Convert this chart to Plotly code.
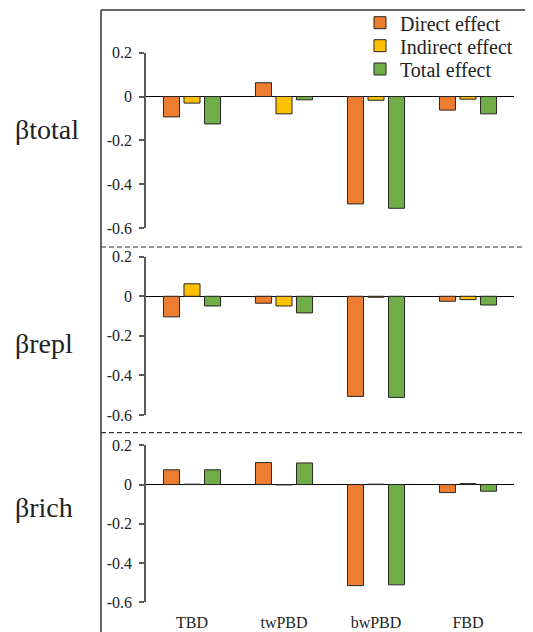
import plotly.graph_objects as go

categories = ["TBD", "twPBD", "bwPBD", "FBD"]
series_names = ["Direct effect", "Indirect effect", "Total effect"]
row_labels = ["βtotal", "βrepl", "βrich"]

total_direct = [-0.093, 0.063, -0.490, -0.062]
total_indirect = [-0.030, -0.079, -0.017, -0.012]
total_total = [-0.125, -0.015, -0.510, -0.079]

repl_direct = [-0.104, -0.035, -0.506, -0.025]
repl_indirect = [0.063, -0.049, -0.005, -0.017]
repl_total = [-0.049, -0.084, -0.511, -0.044]

rich_direct = [0.075, 0.112, -0.515, -0.041]
rich_indirect = [0.002, -0.002, 0.002, 0.005]
rich_total = [0.075, 0.110, -0.511, -0.034]

y_ticks = [0.2, 0, -0.2, -0.4, -0.6]
y_tick_text = ["0.2", "0", "-0.2", "-0.4", "-0.6"]

colors = ["#ED7D31", "#FFC000", "#70AD47"]

# page body has an 8px margin; work in page pixels and convert
OFF = 8
W, H = 533 - OFF, 632 - OFF


def px_x(x):
    return (x - OFF) / W


def px_y(y):
    return 1 - (y - OFF) / H


panels = [
    [total_direct, total_indirect, total_total],
    [repl_direct, repl_indirect, repl_total],
    [rich_direct, rich_indirect, rich_total],
]
pix = [(52.7, 228.0), (256.7, 415.0), (445.3, 602.3)]
label_y = [130, 343, 507]
legend_rows = [22.7, 45.7, 69.0]
legend_names = ["legend", "legend2", "legend3"]

fig = go.Figure()
FONT = "Liberation Serif, Times New Roman, serif"

for p, data in enumerate(panels):
    xa = "x" if p == 0 else f"x{p+1}"
    ya = "y" if p == 0 else f"y{p+1}"
    for s, vals in enumerate(data):
        fig.add_trace(go.Bar(
            x=categories, y=vals, name=series_names[s],
            marker=dict(color=colors[s], line=dict(color="#262626", width=1)),
            xaxis=xa, yaxis=ya, showlegend=(p == 0), legend=legend_names[s],
        ))

x_dom = [px_x(146), px_x(514)]
layout = dict(
    width=W, height=H,
    margin=dict(l=0, r=0, t=0, b=0, autoexpand=False),
    plot_bgcolor="white", paper_bgcolor="white",
    barmode="group", bargap=0.33, bargroupgap=0.22,
    font=dict(family=FONT, size=16, color="#222222"),
)
for s in range(3):
    layout[legend_names[s]] = dict(
        x=px_x(360), y=px_y(legend_rows[s]), xanchor="left", yanchor="middle",
        font=dict(family=FONT, size=20, color="#222222"),
        bgcolor="rgba(0,0,0,0)", borderwidth=0)

for p in range(3):
    top, bot = pix[p]
    xkey = "xaxis" if p == 0 else f"xaxis{p+1}"
    ykey = "yaxis" if p == 0 else f"yaxis{p+1}"
    yname = "y" if p == 0 else f"y{p+1}"
    xname = "x" if p == 0 else f"x{p+1}"
    layout[xkey] = dict(domain=x_dom, anchor=yname, type="category",
                        range=[-0.5, 3.5], showgrid=False, showline=False,
                        zeroline=False, ticks="", automargin=False,
                        showticklabels=(p == 2), ticklabelstandoff=9,
                        tickfont=dict(family=FONT, size=16, color="#222222"))
    layout[ykey] = dict(domain=[px_y(bot), px_y(top)], anchor=xname,
                        range=[-0.6, 0.2], showgrid=False,
                        showline=True, linecolor="#595959", linewidth=1.5,
                        ticks="outside", ticklen=5, tickcolor="#595959", tickwidth=1.5,
                        tickvals=y_ticks, ticktext=y_tick_text,
                        zeroline=True, zerolinecolor="#000000", zerolinewidth=1,
                        automargin=False, ticklabelstandoff=4,
                        tickfont=dict(family=FONT, size=16, color="#222222"))

fig.update_layout(**layout)

shapes = [
    dict(type="line", xref="paper", yref="paper", x0=px_x(101), x1=px_x(101), y0=0, y1=px_y(10),
         line=dict(color="#333333", width=1.5)),
    dict(type="line", xref="paper", yref="paper", x0=px_x(101), x1=1, y0=px_y(10), y1=px_y(10),
         line=dict(color="#333333", width=1.5)),
]
for yy in [247, 432.7]:
    shapes.append(dict(type="line", xref="paper", yref="paper", x0=px_x(101), x1=px_x(530),
                       y0=px_y(yy), y1=px_y(yy),
                       line=dict(color="#333333", width=1.2, dash="5px,3px")))
fig.update_layout(shapes=shapes)

for p in range(3):
    fig.add_annotation(text=row_labels[p], xref="paper", yref="paper",
                       x=px_x(13), y=px_y(label_y[p]), xanchor="left", yanchor="middle",
                       showarrow=False, font=dict(family=FONT, size=28, color="#222222"))

fig.write_html("out.html")
